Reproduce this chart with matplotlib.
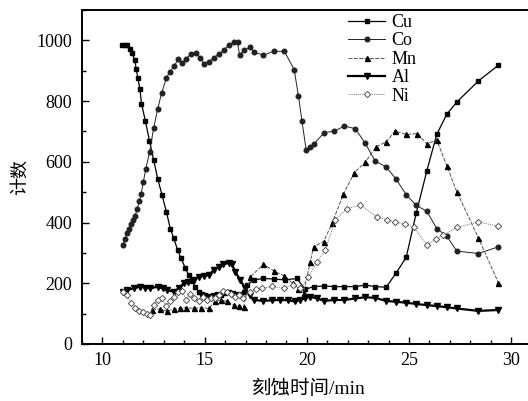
import numpy as np
import matplotlib
matplotlib.use("Agg")
import matplotlib.pyplot as plt
from matplotlib.ticker import MultipleLocator

# Werte (Zeit in min, Zaehlrate)
cu_t = [10.96, 11.12, 11.21, 11.34, 11.45, 11.58, 11.65, 11.73, 11.83, 11.91,
        12.10, 12.30, 12.51, 12.70, 12.92, 13.13, 13.32, 13.49, 13.68, 13.85,
        14.06, 14.22, 14.38, 14.55, 14.71, 14.87, 15.03, 15.2, 15.4, 15.6,
        15.8, 16.0, 16.2, 16.4, 16.6, 16.91, 17.07, 17.40, 17.88, 18.37,
        18.94, 19.51, 19.92, 20.33, 20.85, 21.34, 21.84, 22.37, 22.85, 23.34,
        23.88, 24.37, 24.86, 25.35, 25.87, 26.36, 26.85, 27.34, 28.39, 29.37]
cu_n = [984, 986, 984, 973, 958, 936, 907, 877, 841, 792,
        735, 669, 605, 545, 490, 435, 380, 348, 309, 282,
        249, 227, 208, 189, 172, 164, 161, 158, 162, 165,
        163, 168, 170, 168, 165, 172, 194, 211, 216, 214,
        211, 216, 180, 189, 191, 189, 189, 189, 194, 189,
        187, 234, 285, 430, 570, 691, 757, 797, 866, 918]

co_t = [10.99, 11.1, 11.2, 11.29, 11.4, 11.5, 11.6, 11.7, 11.8, 11.9,
        12.0, 12.12, 12.31, 12.51, 12.70, 12.90, 13.13, 13.29, 13.52, 13.71,
        13.91, 14.11, 14.34, 14.56, 14.79, 14.99, 15.20, 15.44, 15.69, 15.93,
        16.17, 16.42, 16.61, 16.71, 16.91, 17.23, 17.40, 17.88, 18.37, 18.90,
        19.38, 19.59, 19.76, 19.97, 20.17, 20.36, 20.85, 21.34, 21.84, 22.37,
        22.85, 23.34, 23.88, 24.37, 24.86, 25.35, 25.87, 26.36, 26.85, 27.34,
        28.39, 29.37]
co_n = [325, 345, 365, 380, 395, 410, 421, 445, 470, 495,
        534, 576, 633, 713, 773, 828, 876, 896, 916, 939,
        925, 940, 956, 958, 943, 921, 929, 943, 954, 967,
        984, 994, 994, 951, 967, 978, 962, 951, 964, 964,
        904, 817, 735, 638, 649, 660, 696, 701, 718, 709,
        662, 603, 583, 543, 492, 457, 437, 380, 355, 306,
        298, 320]

mn_t = [12.43, 12.8, 13.16, 13.49, 13.8, 14.1, 14.46, 14.8, 15.2, 15.5,
        15.8, 16.1, 16.42, 16.7, 16.91, 17.23, 17.88, 18.4, 18.9, 19.3,
        19.59, 19.84, 20.17, 20.33, 20.82, 21.23, 21.79, 22.32, 22.85, 23.39,
        23.88, 24.32, 24.86, 25.38, 25.87, 26.36, 26.85, 27.34, 28.39, 29.37]
mn_n = [112, 115, 108, 115, 118, 120, 117, 120, 117, 140,
        145, 140, 128, 125, 123, 221, 262, 240, 224, 200,
        180, 168, 271, 320, 337, 397, 493, 564, 598, 649,
        666, 701, 690, 693, 660, 671, 587, 501, 350, 202]

al_t = [10.99, 11.2, 11.53, 11.83, 12.1, 12.35, 12.70, 12.95, 13.16, 13.49,
        13.73, 13.97, 14.2, 14.46, 14.71, 14.95, 15.20, 15.44, 15.69, 15.9,
        16.17, 16.34, 16.5, 16.74, 16.99, 17.2, 17.40, 17.88, 18.29, 18.70,
        19.1, 19.4, 19.68, 19.9, 20.17, 20.5, 20.85, 21.34, 21.84, 22.37,
        22.85, 23.34, 23.88, 24.37, 24.86, 25.35, 25.87, 26.36, 26.85, 27.34,
        28.39, 29.37]
al_n = [172, 178, 183, 189, 186, 183, 189, 183, 178, 172,
        183, 200, 205, 211, 221, 225, 227, 243, 254, 262,
        267, 262, 238, 211, 183, 160, 145, 142, 144, 145,
        144, 140, 145, 150, 156, 150, 142, 145, 145, 150,
        154, 152, 142, 139, 136, 132, 128, 125, 121, 117,
        109, 112]

ni_t = [11.0, 11.2, 11.4, 11.6, 11.8, 12.0, 12.2, 12.35, 12.5, 12.7,
        12.9, 13.1, 13.3, 13.5, 13.7, 13.9, 14.1, 14.3, 14.5, 14.7,
        14.9, 15.1, 15.3, 15.5, 15.7, 15.9, 16.1, 16.3, 16.5, 16.7,
        16.9, 17.2, 17.5, 17.81, 18.3, 18.86, 19.3, 19.68, 20.08, 20.5,
        20.9, 21.39, 21.96, 22.61, 23.43, 23.9, 24.32, 24.8, 25.22, 25.87,
        26.3, 26.68, 27.34, 28.39, 29.37]
ni_n = [170, 160, 135, 120, 110, 105, 100, 95, 130, 145,
        150, 125, 140, 155, 170, 175, 145, 165, 150, 140,
        155, 145, 150, 150, 160, 175, 170, 165, 155, 160,
        150, 170, 180, 183, 190, 183, 195, 183, 221, 270,
        309, 408, 446, 457, 419, 410, 402, 395, 386, 326,
        345, 359, 384, 402, 388]

serif = ['Liberation Serif', 'Noto Sans CJK SC', 'DejaVu Sans']
plt.rcParams['font.family'] = serif
plt.rcParams['font.size'] = 13


def main():
    fig = plt.figure(figsize=(5.28, 4.01), dpi=100)
    ax = fig.add_axes([82 / 528, 1 - 344 / 401, 1 - 82 / 528, (344 - 10) / 401])

    ax.plot(cu_t, cu_n, color='black', lw=0.9, marker='s', ms=3.0, label='Cu')
    ax.plot(co_t, co_n, color='#222222', lw=0.7, marker='o', ms=3.3, label='Co')
    ax.plot(mn_t, mn_n, color='#555555', lw=0.7, ls=(0, (4, 1.5)), marker='^',
            ms=3.6, mfc='black', mec='black', label='Mn')
    ax.plot(al_t, al_n, color='black', lw=1.6, marker='v', ms=3.8, label='Al')
    ax.plot(ni_t, ni_n, color='#777777', lw=0.7, ls=(0, (1, 1)), marker='D',
            ms=3.2, mfc='white', mec='#555555', mew=0.7, label='Ni')

    ax.set_xlim(9, 10 + (528 - 102) / 20.46)
    ax.set_ylim(0, 1100)
    ax.xaxis.set_major_locator(MultipleLocator(5))
    ax.xaxis.set_minor_locator(MultipleLocator(1))
    ax.yaxis.set_major_locator(MultipleLocator(200))
    ax.yaxis.set_minor_locator(MultipleLocator(100))
    ax.tick_params(which='both', direction='in', top=False, right=False, width=1)
    ax.tick_params(which='major', length=5)
    ax.tick_params(which='minor', length=3)
    ax.tick_params(axis='y', pad=7)
    ax.tick_params(axis='x', pad=6)
    for s in ['left', 'bottom', 'top']:
        ax.spines[s].set_linewidth(1.4)
    ax.spines['right'].set_visible(False)

    ax.set_ylabel('计数', family=['Noto Sans CJK SC'], fontsize=13)
    ax.yaxis.set_label_coords(-0.12, 0.5)
    ax.set_xlabel('刻蚀时间/min', fontsize=14)
    ax.xaxis.set_label_coords((309 - 82) / (528 - 82), -(389 - 344) / 334)
    ax.xaxis.label.set_va('center')

    ax.legend(loc='upper left', bbox_to_anchor=(348 / 528, 1 - 14 / 401),
              bbox_transform=fig.transFigure, frameon=False, borderpad=0,
              borderaxespad=0, labelspacing=0.08, handlelength=2.05,
              handletextpad=0.35, fontsize=13)

    fig.savefig('out.png', dpi=100)


if __name__ == '__main__':
    main()
